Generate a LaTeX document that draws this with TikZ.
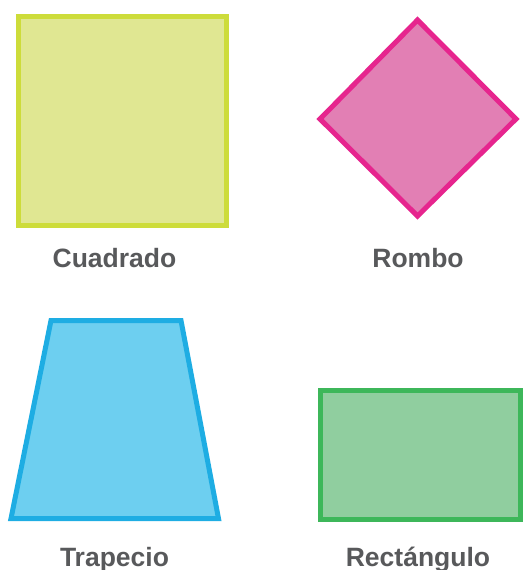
\documentclass[tikz,border=0pt]{standalone}
\usepackage{fontspec}
\setmainfont{Liberation Sans}
\definecolor{sqfill}{HTML}{E0E792}
\definecolor{sqline}{HTML}{CDDC3A}
\definecolor{rhfill}{HTML}{E27FB4}
\definecolor{rhline}{HTML}{E6258E}
\definecolor{trfill}{HTML}{6DCFF0}
\definecolor{trline}{HTML}{1EADE3}
\definecolor{refill}{HTML}{90CE9F}
\definecolor{reline}{HTML}{3DB75A}
\definecolor{labelgray}{HTML}{58595B}
\tikzset{
  shapestyle/.style={line width=5pt, line join=miter},
  lbl/.style={anchor=base, inner sep=0pt, text=labelgray, font=\fontsize{26.5}{30}\selectfont\bfseries}
}
\begin{document}
\begin{tikzpicture}[x=1pt,y=-1pt]
\useasboundingbox (0,0) rectangle (523,570);
% square
\draw[shapestyle, draw=sqline, fill=sqfill] (18.5,16.5) rectangle (226.5,225.5);
% rhombus
\draw[shapestyle, draw=rhline, fill=rhfill] (417.5,20) -- (516,119) -- (417.5,216) -- (320,119) -- cycle;
% trapezoid
\draw[shapestyle, draw=trline, fill=trfill] (51,320.5) -- (181,320.5) -- (218.5,518.5) -- (11,518.5) -- cycle;
% rectangle
\draw[shapestyle, draw=reline, fill=refill] (320.5,390.5) rectangle (520.5,519.5);
% labels
\node[lbl] (cuadrado) at (114.5,267) {Cuadrado};
\node[lbl] (rombo) at (418,267) {Rombo};
\node[lbl] (trapecio) at (114.5,566) {Trapecio};
\node[lbl] (rectangulo) at (418,566) {Rectángulo};
\end{tikzpicture}
\end{document}
